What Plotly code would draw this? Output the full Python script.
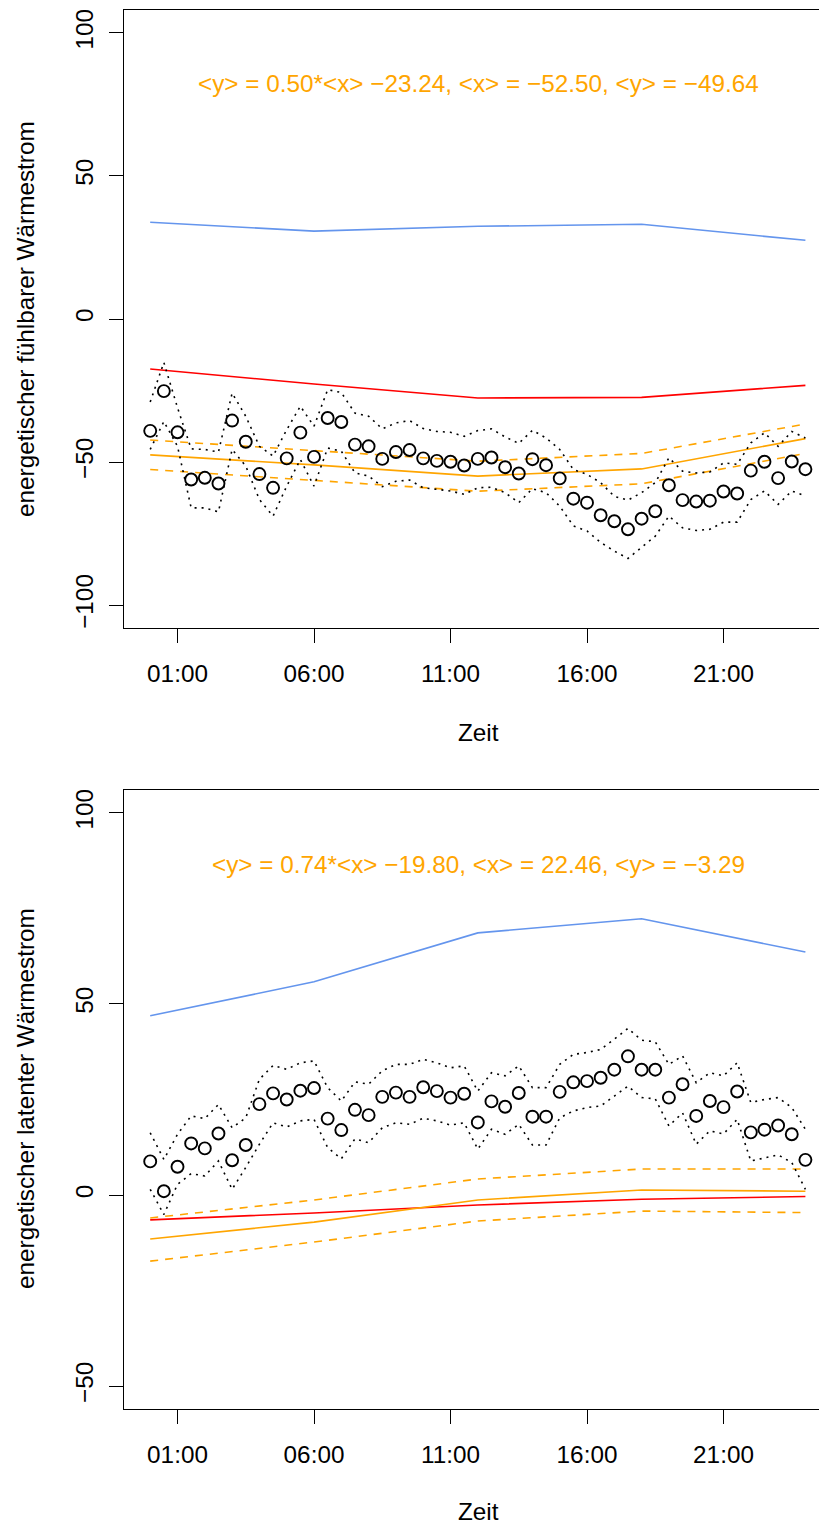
import plotly.graph_objects as go

# ---------------- data ----------------
hours = [0, 0.5, 1, 1.5, 2, 2.5, 3, 3.5, 4, 4.5, 5, 5.5, 6, 6.5, 7, 7.5, 8, 8.5, 9, 9.5,
         10, 10.5, 11, 11.5, 12, 12.5, 13, 13.5, 14, 14.5, 15, 15.5, 16, 16.5, 17, 17.5,
         18, 18.5, 19, 19.5, 20, 20.5, 21, 21.5, 22, 22.5, 23, 23.5, 24]
line_hours = [0, 6, 12, 18, 24]
tick_vals = [1, 6, 11, 16, 21]
tick_text = ["01:00", "06:00", "11:00", "16:00", "21:00"]

# top panel: sensible heat flux
top_obs = [-39.1, -25.2, -39.6, -56.1, -55.5, -57.5, -35.5, -42.9, -54.2, -59.0,
           -48.7, -39.7, -48.2, -34.6, -36.0, -43.9, -44.5, -48.9, -46.5, -45.8,
           -48.7, -49.6, -49.9, -51.2, -48.9, -48.4, -51.8, -54.0, -49.0, -51.1,
           -55.7, -62.8, -64.2, -68.6, -70.7, -73.5, -69.8, -67.2, -58.1, -63.3,
           -63.8, -63.5, -60.3, -61.0, -53.0, -49.9, -55.6, -49.8, -52.5]
top_up = [-29.0, -15.2, -31.0, -45.4, -45.6, -46.5, -25.9, -34.0, -44.5, -47.9,
          -38.7, -30.5, -37.5, -24.7, -25.7, -32.9, -34.0, -38.4, -36.3, -35.5,
          -38.3, -39.3, -39.6, -41.0, -39.0, -38.4, -41.2, -43.5, -38.9, -41.6,
          -45.6, -52.6, -54.3, -57.2, -62.0, -63.3, -60.7, -57.2, -48.5, -53.2,
          -53.8, -53.5, -50.3, -50.8, -43.3, -39.8, -44.5, -39.3, -41.6]
top_lo = [-45.6, -35.8, -44.5, -66.0, -66.0, -67.4, -45.6, -51.4, -63.1, -68.9,
          -58.4, -49.1, -58.4, -45.1, -46.2, -53.8, -54.9, -58.6, -56.7, -56.3,
          -59.0, -59.5, -60.1, -61.3, -59.0, -58.8, -60.7, -64.2, -59.3, -60.7,
          -65.4, -72.3, -74.1, -78.1, -81.1, -83.7, -79.9, -75.9, -68.9, -73.0,
          -73.9, -73.5, -71.0, -71.0, -63.1, -60.1, -64.8, -60.1, -61.9]
top_blue = [33.8, 30.7, 32.4, 33.1, 27.5]
top_red = [-17.5, -22.7, -27.6, -27.4, -23.2]
top_fit = [-47.5, -51.0, -54.9, -52.4, -41.8]
top_fit_up = [-42.3, -46.0, -49.7, -47.0, -36.7]
top_fit_lo = [-52.6, -56.3, -60.2, -57.6, -47.0]
top_caption = "<y> = 0.50*<x> \u221223.24, <x> = \u221252.50, <y> = \u221249.64"

# bottom panel: latent heat flux
bot_obs = [8.8, 1.0, 7.4, 13.5, 12.2, 16.1, 9.1, 13.1, 23.8, 26.6,
           25.0, 27.3, 28.0, 20.0, 17.0, 22.3, 20.9, 25.7, 26.8, 25.7,
           28.2, 27.2, 25.5, 26.5, 19.0, 24.5, 23.1, 26.7, 20.5, 20.5,
           27.0, 29.5, 29.8, 30.7, 32.8, 36.3, 32.8, 32.8, 25.5, 29.0,
           20.7, 24.6, 23.0, 27.1, 16.4, 17.1, 18.2, 15.9, 9.2]
bot_up = [16.3, 9.3, 15.9, 20.7, 20.0, 23.7, 17.6, 20.2, 30.3, 33.9,
          32.9, 34.6, 35.1, 28.1, 24.6, 29.6, 29.0, 32.5, 34.2, 34.2,
          35.5, 34.6, 33.3, 33.8, 27.2, 32.0, 31.2, 33.8, 28.1, 28.1,
          34.2, 36.8, 37.3, 38.1, 40.8, 43.6, 40.5, 40.1, 34.2, 36.4,
          29.4, 32.0, 31.2, 34.6, 24.2, 25.0, 25.5, 22.9, 17.2]
bot_lo = [1.5, -5.1, 2.8, 5.6, 5.0, 8.9, 1.5, 7.2, 13.3, 18.9,
          17.8, 19.4, 19.8, 12.4, 9.5, 14.7, 13.7, 17.6, 18.9, 18.5,
          20.1, 19.4, 18.3, 18.9, 12.0, 17.2, 15.9, 18.5, 13.1, 13.1,
          20.2, 22.0, 22.9, 23.3, 25.9, 28.5, 25.5, 25.2, 18.1, 21.5,
          13.3, 16.8, 16.0, 19.8, 8.9, 9.8, 10.5, 8.5, 1.5]
bot_blue = [46.9, 55.8, 68.6, 72.3, 63.6]
bot_red = [-6.5, -4.7, -2.6, -1.1, -0.4]
bot_fit = [-11.5, -7.1, -1.3, 1.3, 1.0]
bot_fit_up = [-6.0, -1.3, 4.2, 6.8, 6.8]
bot_fit_lo = [-17.3, -12.3, -6.8, -4.2, -4.6]
bot_caption = "<y> = 0.74*<x> \u221219.80, <x> = 22.46, <y> = \u22123.29"

ylabel_top = "energetischer fühlbarer Wärmestrom"
ylabel_bot = "energetischer latenter Wärmestrom"
xlabel = "Zeit"

# ---------------- layout geometry ----------------
# the page body has an 8px margin; all positions below are page pixels
OFF = 8
W, H = 827 - OFF, 1524 - OFF
ML = 124 - OFF
MR = 0
MT = 10 - OFF
MB = H - (1409 - OFF)
PW = W - ML - MR
PH = H - MT - MB


def py(p):  # page pixel y -> paper y
    return (H - MB - (p - OFF)) / PH


def px(p):  # page pixel x -> paper x
    return ((p - OFF) - ML) / PW


FONT = "Liberation Sans, Arial, Helvetica, sans-serif"
ORANGE = "#FFA500"
RED = "#FF0000"
BLUE = "#6495ED"

fig = go.Figure()


def add_panel(xa, ya, obs, up, lo, blue, red, fit, fit_up, fit_lo):
    common = dict(xaxis=xa, yaxis=ya, showlegend=False, hoverinfo="skip")
    fig.add_trace(go.Scatter(x=line_hours, y=blue, mode="lines",
                             line=dict(color=BLUE, width=1.6), **common))
    fig.add_trace(go.Scatter(x=line_hours, y=red, mode="lines",
                             line=dict(color=RED, width=1.6), **common))
    fig.add_trace(go.Scatter(x=line_hours, y=fit, mode="lines",
                             line=dict(color=ORANGE, width=1.6), **common))
    fig.add_trace(go.Scatter(x=line_hours, y=fit_up, mode="lines",
                             line=dict(color=ORANGE, width=1.6, dash="8px,7px"), **common))
    fig.add_trace(go.Scatter(x=line_hours, y=fit_lo, mode="lines",
                             line=dict(color=ORANGE, width=1.6, dash="8px,7px"), **common))
    fig.add_trace(go.Scatter(x=hours, y=up, mode="lines",
                             line=dict(color="black", width=1.6, dash="2px,5px"), **common))
    fig.add_trace(go.Scatter(x=hours, y=lo, mode="lines",
                             line=dict(color="black", width=1.6, dash="2px,5px"), **common))
    fig.add_trace(go.Scatter(x=hours, y=obs, mode="markers",
                             marker=dict(symbol="circle-open", size=12, color="black",
                                         line=dict(color="black", width=1.9)), **common))


add_panel("x", "y", top_obs, top_up, top_lo, top_blue, top_red, top_fit, top_fit_up, top_fit_lo)
add_panel("x2", "y2", bot_obs, bot_up, bot_lo, bot_blue, bot_red, bot_fit, bot_fit_up, bot_fit_lo)

px_per_h = 27.3
x_left = -0.96
x_right = x_left + PW / px_per_h

xaxis_common = dict(range=[x_left, x_right], tickmode="array", tickvals=tick_vals,
                    ticktext=tick_text, ticks="outside", ticklen=14, tickwidth=1.3,
                    tickcolor="black", showline=True, linecolor="black", linewidth=1.3,
                    mirror=True, showgrid=False, zeroline=False,
                    tickfont=dict(family=FONT, size=24.3, color="black"),
                    ticklabelstandoff=10)
yaxis_common = dict(ticks="outside", ticklen=14, tickwidth=1.3, tickcolor="black",
                    showline=True, linecolor="black", linewidth=1.3, mirror=False,
                    showgrid=False, zeroline=False, tickangle=-90,
                    tickfont=dict(family=FONT, size=24.3, color="black"),
                    ticklabelstandoff=6)

fig.update_layout(
    width=W, height=H,
    margin=dict(l=ML, r=MR, t=MT, b=MB),
    plot_bgcolor="white", paper_bgcolor="white",
    xaxis=dict(domain=[0, 1], anchor="y", **xaxis_common),
    yaxis=dict(domain=[py(628), 1], anchor="x", range=[-108, 108],
               tickvals=[-100, -50, 0, 50, 100], **yaxis_common),
    xaxis2=dict(domain=[0, 1], anchor="y2", **xaxis_common),
    yaxis2=dict(domain=[0, py(790)], anchor="x2", range=[-56, 106],
                tickvals=[-50, 0, 50, 100], **yaxis_common),
)

ann_font = dict(family=FONT, size=24.3, color="black")
annotations = [
    dict(text=top_caption, x=px(478), y=py(84), font=dict(family=FONT, size=24.3, color=ORANGE)),
    dict(text=bot_caption, x=px(478), y=py(864), font=dict(family=FONT, size=24.3, color=ORANGE)),
    dict(text=xlabel, x=px(478), y=py(732), font=ann_font),
    dict(text=xlabel, x=px(478), y=py(1511), font=ann_font),
    dict(text=ylabel_top, x=px(25), y=py(319), textangle=-90, font=ann_font),
    dict(text=ylabel_bot, x=px(25), y=py(1099), textangle=-90, font=ann_font),
]
for a in annotations:
    fig.add_annotation(xref="paper", yref="paper", showarrow=False,
                       xanchor="center", yanchor="middle", **a)

fig.write_html("out.html")
